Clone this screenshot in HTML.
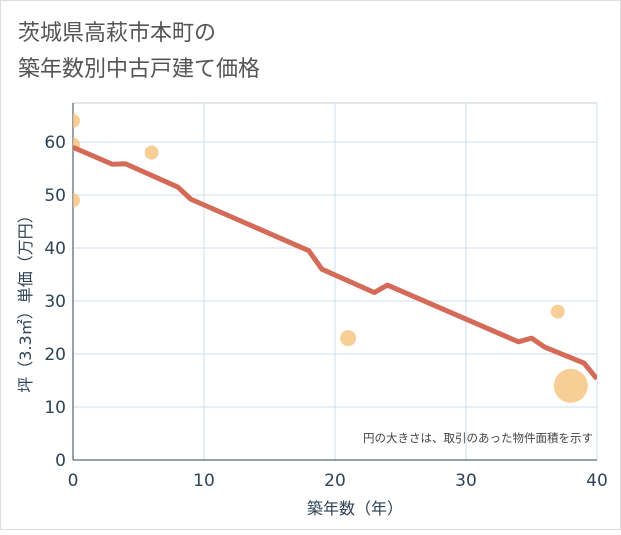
<!DOCTYPE html>
<html><head><meta charset="utf-8">
<style>
body{margin:0;background:#fff;}
svg text{font-family:"Liberation Sans","Noto Sans CJK JP",sans-serif;}
svg text.tk{font-family:"DejaVu Sans","Noto Sans CJK JP",sans-serif;}
</style></head>
<body>
<svg width="621" height="530" viewBox="0 0 621 530">
<rect x="0.5" y="0.5" width="620" height="529" fill="#fff" stroke="#ddd"/>
<text x="18" y="40" font-size="22" fill="#555">茨城県高萩市本町の</text>
<text x="18" y="76" font-size="22" fill="#555">築年数別中古戸建て価格</text>
<defs><clipPath id="pc"><rect x="73" y="103" width="524" height="357"/></clipPath></defs>
<g id="grid"></g>
<g id="ticks"></g>
<g clip-path="url(#pc)" id="bubbles"></g>
<g clip-path="url(#pc)" id="line"></g>
<text x="593" y="442" font-size="11.5" fill="#444" text-anchor="end">円の大きさは、取引のあった物件面積を示す</text>
<text class="tk" x="355" y="514" font-size="16" fill="#2f4356" text-anchor="middle">築年数（年）</text>
<text class="tk" transform="translate(31,300) rotate(-90)" font-size="16" fill="#2f4356" text-anchor="middle">坪（3.3㎡）単価（万円）</text>
</svg>
<script>
const xTicks=[0,10,20,30,40];
const yTicks=[0,10,20,30,40,50,60];
const lineX=[0,3,4,8,9,18,19,23,24,34,35,36,39,40];
const lineY=[59,55.8,55.9,51.5,49.2,39.5,36,31.6,33,22.3,23,21.3,18.3,15.3];
const bubX=[0,0,0,6,21,37,38];
const bubY=[64,59.5,49,58,23,28,14];
const bubR=[7,7,7,7,8,7,17];
const NS="http://www.w3.org/2000/svg";
const X=v=>73+v*524/40, Y=v=>460-v*318/60;
function mk(t,a,p){const e=document.createElementNS(NS,t);for(const k in a)e.setAttribute(k,a[k]);p.appendChild(e);return e;}
const g=document.getElementById('grid'),tk=document.getElementById('ticks');
mk('rect',{x:73,y:103,width:524,height:357,fill:'none',stroke:'#ccc'},g);
xTicks.forEach(v=>{const l=mk('line',{x1:X(v),x2:X(v),y1:103,y2:460,stroke:'#cfdceb'},g);
const t=mk('text',{class:'tk',x:X(v),y:486,'font-size':17,fill:'#2f4356','text-anchor':'middle'},tk);t.textContent=v;});
yTicks.forEach(v=>{const l=mk('line',{x1:73,x2:597,y1:Y(v),y2:Y(v),stroke:'#cfdceb'},g);
const t=mk('text',{class:'tk',x:66,y:Y(v)+6,'font-size':17,fill:'#2f4356','text-anchor':'end'},tk);t.textContent=v;});
mk('line',{x1:73,x2:597,y1:460,y2:460,stroke:'#2f4356'},g);
mk('line',{x1:73,x2:73,y1:103,y2:460,stroke:'#2f4356'},g);
const b=document.getElementById('bubbles');
bubX.forEach((v,i)=>{const c=mk('circle',{cx:X(v),cy:Y(bubY[i]),r:bubR[i],fill:'#f5c27a','fill-opacity':0.8},b);});
const p=mk('polyline',{points:lineX.map((v,i)=>X(v)+','+Y(lineY[i])).join(' '),fill:'none',stroke:'#d46a58','stroke-width':5,'stroke-linejoin':'round'},document.getElementById('line'));

</script>
</body></html>
